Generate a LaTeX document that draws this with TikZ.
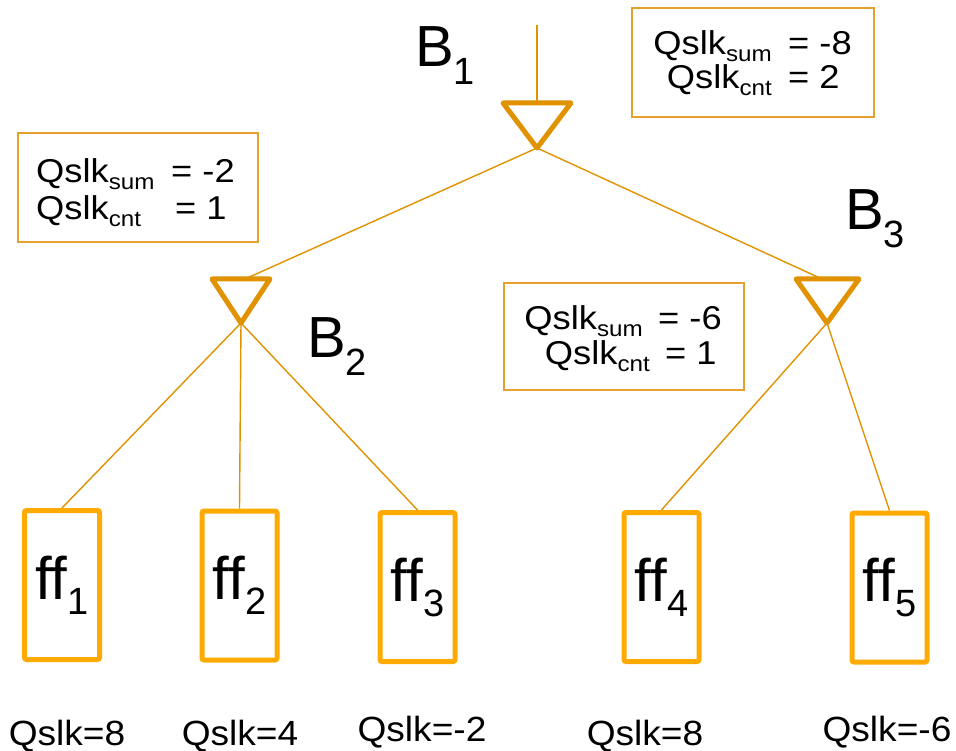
\documentclass[tikz,border=0pt]{standalone}
\usepackage{graphicx}
\usepackage{fontspec}
\setmainfont{Liberation Sans}
\definecolor{wire}{RGB}{224,146,0}
\definecolor{ffcol}{RGB}{255,170,0}
\definecolor{boxcol}{RGB}{230,160,45}
% lowered subscripts in fixed sizes
\newcommand\qsub[1]{{\fontsize{22}{22}\selectfont\smash{\raisebox{-7pt}{#1}}}}
\newcommand\bsub[1]{{\fontsize{38}{38}\selectfont\raisebox{-18pt}{#1}}}
\newcommand\fsub[1]{{\fontsize{38}{38}\selectfont\raisebox{-15pt}{#1}}}
% slightly widened lettering
\newcommand\wide[1]{\scalebox{1.1}[1]{#1}}
\newcommand\widesm[1]{\scalebox{1.06}[1]{#1}}
\begin{document}
\begin{tikzpicture}[x=1pt,y=-1pt,
  wireline/.style={draw=wire,line width=1.4pt},
  buffer/.style={draw=wire,line width=5pt,line join=round,line cap=round},
  flop/.style={draw=ffcol,line width=5pt,rounded corners=2pt,minimum width=75pt,
    minimum height=149pt,inner sep=0pt,font=\fontsize{60}{60}\selectfont},
  infobox/.style={draw=boxcol,line width=1.6pt,inner sep=0pt},
  infotext/.style={inner sep=0pt,font=\fontsize{33}{33}\selectfont},
  blabel/.style={inner sep=0pt,anchor=base west,font=\fontsize{58}{58}\selectfont},
  qlabel/.style={inner sep=0pt,anchor=base,font=\fontsize{35}{35}\selectfont}]
\useasboundingbox (0,0) rectangle (956,751);

% buffer corners
\coordinate (b1in) at (537,25);
\coordinate (b1top) at (537,103);
\coordinate (b1apex) at (537,148);
\coordinate (b2top) at (245,279);
\coordinate (b2apex) at (241,323);
\coordinate (b3top) at (822,279);
\coordinate (b3apex) at (827,323);

% flip-flops
\node[flop] (ff1) at (62,585) {ff\fsub{1}};
\node[flop] (ff2) at (239.5,585.5) {ff\fsub{2}};
\node[flop] (ff3) at (417.5,587) {ff\fsub{3}};
\node[flop] (ff4) at (661.5,587) {ff\fsub{4}};
\node[flop] (ff5) at (889.5,587.5) {ff\fsub{5}};

% wires
\draw[wireline] (b1in) -- (b1top);
\draw[wireline] (b1apex) -- (b2top);
\draw[wireline] (b1apex) -- (b3top);
\draw[wireline] (b2apex) -- (ff1.north);
\draw[wireline] (b2apex) -- (ff2.north);
\draw[wireline] (b2apex) -- (ff3.north);
\draw[wireline] (b3apex) -- (ff4.north);
\draw[wireline] (b3apex) -- (ff5.north);

% buffers
\draw[buffer] (503,103) -- (571,103) -- (b1apex) -- cycle;
\draw[buffer] (212,279) -- (270,279) -- (b2apex) -- cycle;
\draw[buffer] (796,279) -- (859,279) -- (b3apex) -- cycle;

% buffer names
\node[blabel] (lb1) at (415,67) {B\bsub{1}};
\node[blabel] (lb2) at (307,357) {B\bsub{2}};
\node[blabel] (lb3) at (845,230) {B\bsub{3}};

% slack summaries: frames
\node[infobox,minimum width=242pt,minimum height=109pt] (s1) at (753,62.5) {};
\node[infobox,minimum width=240pt,minimum height=109pt] (s2) at (138,187.5) {};
\node[infobox,minimum width=240pt,minimum height=107pt] (s3) at (624,336.5) {};

% slack summaries: text of the root buffer
\node[infotext,anchor=base east] (s1a) at (772,55) {\wide{Qslk\qsub{sum}}};
\node[infotext,anchor=base west] (s1b) at (788,55) {\wide{= -8}};
\node[infotext,anchor=base east] (s1c) at (772,89) {\wide{Qslk\qsub{cnt}}};
\node[infotext,anchor=base west] (s1d) at (788,89) {\wide{= 2}};

% slack summaries: text of the left buffer
\node[infotext,anchor=base west] (s2a) at (36,183) {\wide{Qslk\qsub{sum}}};
\node[infotext,anchor=base west] (s2b) at (171,183) {\wide{= -2}};
\node[infotext,anchor=base west] (s2c) at (36,220) {\wide{Qslk\qsub{cnt}}};
\node[infotext,anchor=base west] (s2d) at (175,220) {\wide{= 1}};

% slack summaries: text of the right buffer
\node[infotext,anchor=base east] (s3a) at (643,330) {\wide{Qslk\qsub{sum}}};
\node[infotext,anchor=base west] (s3b) at (658,330) {\wide{= -6}};
\node[infotext,anchor=base east] (s3c) at (650,364) {\wide{Qslk\qsub{cnt}}};
\node[infotext,anchor=base west] (s3d) at (665,364) {\wide{= 1}};

% slack of each flip-flop
\node[qlabel] (q1) at (67,745) {\widesm{Qslk=8}};
\node[qlabel] (q2) at (240,745) {\widesm{Qslk=4}};
\node[qlabel] (q3) at (422,741) {\widesm{Qslk=-2}};
\node[qlabel] (q4) at (645,745) {\widesm{Qslk=8}};
\node[qlabel] (q5) at (887,741) {\widesm{Qslk=-6}};
\end{tikzpicture}
\end{document}
